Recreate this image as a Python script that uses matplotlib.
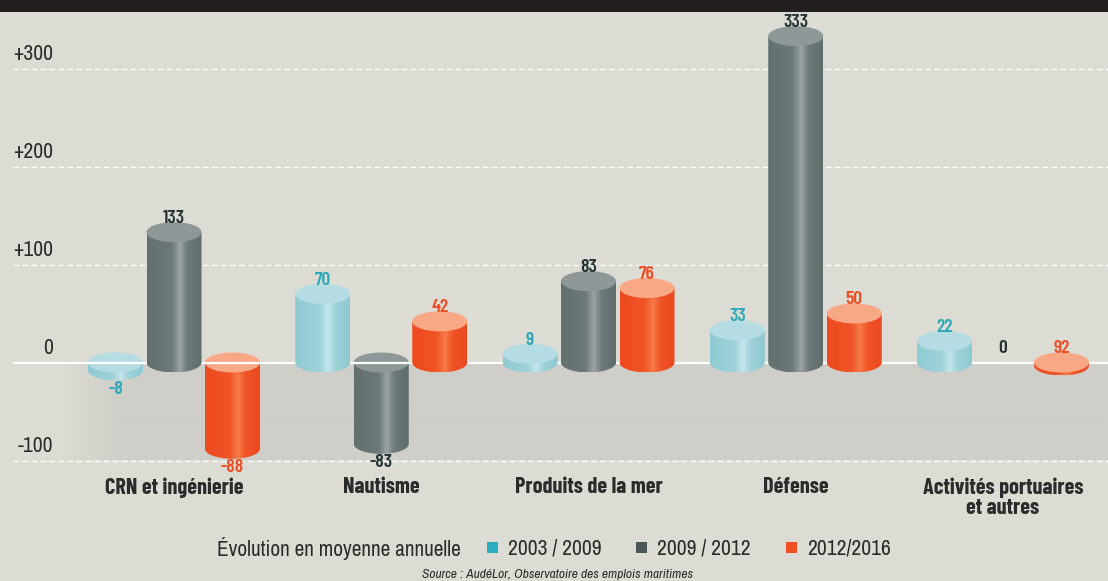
import numpy as np
import matplotlib
matplotlib.use('Agg')
import matplotlib.pyplot as plt
from matplotlib.path import Path
from matplotlib.patches import PathPatch, Ellipse, Rectangle
from matplotlib.colors import LinearSegmentedColormap

# --- donnees ---
categories = ['CRN et ingénierie', 'Nautisme', 'Produits de la mer', 'Défense',
              'Activités portuaires\net autres']
series = ['2003 / 2009', '2009 / 2012', '2012/2016']
v_2003_2009 = [-8, 70, 9, 33, 22]
v_2009_2012 = [133, -83, 83, 333, 0]
v_2012_2016 = [-88, 42, 76, 50, 0]          # hauteur dessinee
lab_2012_2016 = ['-88', '42', '76', '50', '92']   # etiquette affichee
sans_cylindre = {(4, 1)}                     # 0 : pas de cylindre dessine
ticks = [-100, 0, 100, 200, 300]
tick_labels = ['-100', '0', '+100', '+200', '+300']

valeurs = [v_2003_2009, v_2009_2012, v_2012_2016]
etiquettes = [[str(v) for v in v_2003_2009], [str(v) for v in v_2009_2012], lab_2012_2016]

# --- style ---
W, H = 1108, 581
FOND = '#dcdcd4'
POLICE = ['Archivo Narrow', 'DejaVu Sans']
POLICE_G = ['Barlow Condensed', 'DejaVu Sans']
plt.rcParams['font.family'] = POLICE

couleurs_txt = ['#2aa9b9', '#243434', '#f04e23']
couleurs_leg = ['#2aaebf', '#4b5857', '#f04e23']
tops = ['#b5dce3', '#8f9898', '#f9a886']
cotes = [
    ['#8ecad3', '#9ed2da', '#c4e6eb', '#9ed2da', '#8cc8d1'],
    ['#627070', '#6e7979', '#9ca4a4', '#6e7979', '#606d6d'],
    ['#ee4a20', '#f05427', '#f67b49', '#f05427', '#ec481f'],
]
cmaps = [LinearSegmentedColormap.from_list('c%d' % i, list(zip([0, 0.45, 0.6, 0.74, 1], c)))
         for i, c in enumerate(cotes)]

# conversions pixel -> donnees
X0, DX = 174, 207.25
Y0, SY = 362.5, 0.98
def px(x):
    return (x - X0) / DX
def py(y):
    return (Y0 - y) / SY

larg = 55 / DX
decal = 58.5 / DX
eh = 10 / SY   # demi-hauteur des ellipses

fig = plt.figure(figsize=(W / 100, H / 100), dpi=100)
fig.patch.set_facecolor(FOND)
ax = fig.add_axes([0, 0, 1, 1])
ax.set_facecolor(FOND)
ax.axis('off')

# bandeau noir en haut
fig.patches.append(Rectangle((0, 1 - 12 / H), 1, 12 / H, transform=fig.transFigure,
                             facecolor='#231f20', edgecolor='none', zorder=0))

# zone negative plus foncee
rgb = matplotlib.colors.to_rgb('#cfcec8')
ramp = np.clip(np.linspace(0, 1, 400) / 0.06, 0, 1)
img = np.zeros((1, 400, 4))
img[..., :3] = rgb
img[..., 3] = ramp
ax.imshow(img, extent=[px(58), px(1108), -100, 0], aspect='auto', zorder=0.5,
          interpolation='bilinear')

# grille
for t, lab in zip(ticks, tick_labels):
    if t == 0:
        ax.plot([px(13), px(1108)], [0, 0], color='white', lw=1.6, zorder=3,
                solid_capstyle='butt')
    else:
        ax.plot([px(13), px(1108)], [t, t], color='white', lw=1.0, zorder=1,
                dashes=(4, 2.5))
    ax.text(px(53), t + 9, lab, ha='right', va='baseline', fontsize=15.5,
            color='#2b2b2b', zorder=5)


def cylindre(xc, v, cmap, top, z):
    y_top = max(v, 0)
    y_bot = min(v, 0)
    if v == 0:
        y_bot = -3 / SY
    t = np.linspace(np.pi, 2 * np.pi, 80)
    xs = np.concatenate([[xc - larg / 2], xc + larg / 2 * np.cos(t), [xc + larg / 2]])
    ys = np.concatenate([[y_top], y_bot + eh * np.sin(t), [y_top]])
    patch = PathPatch(Path(np.column_stack([xs, ys])), facecolor='none', edgecolor='none')
    ax.add_patch(patch)
    grad = np.linspace(0, 1, 256).reshape(1, -1)
    im = ax.imshow(grad, cmap=cmap, extent=[xc - larg / 2, xc + larg / 2, y_bot - eh, y_top],
                   aspect='auto', zorder=z, interpolation='bilinear')
    im.set_clip_path(patch)
    ax.add_patch(Ellipse((xc, y_top), larg, 2 * eh, facecolor=top, edgecolor='none',
                         zorder=z + 0.1))


for i in range(len(categories)):
    for s in range(3):
        v = valeurs[s][i]
        xc = i + (s - 1) * decal
        if (i, s) not in sans_cylindre:
            z = 2 if v < 0 else 4
            cylindre(xc, v, cmaps[s], tops[s], z)
        if v >= 0:
            ax.text(xc, v + eh - 1, etiquettes[s][i], ha='center', va='baseline',
                    fontsize=14, fontweight='semibold', color=couleurs_txt[s], zorder=6,
                    family=POLICE_G)
        else:
            ax.text(xc, v - eh - 0.5, etiquettes[s][i], ha='center', va='top',
                    fontsize=14, fontweight='semibold', color=couleurs_txt[s], zorder=6,
                    family=POLICE_G)
    ax.text(i, py(477), categories[i], ha='center', va='top', fontsize=16,
            fontweight='bold', color='#2b2b2b', linespacing=1.0, zorder=6,
            family=POLICE_G)

ax.set_xlim(px(0), px(W))
ax.set_ylim(py(H), py(0))

# legende
def fx(x):
    return x / W
def fy(y):
    return 1 - y / H

fig.text(fx(217), fy(548), 'Évolution en moyenne annuelle', ha='left', va='center',
         fontsize=15.3, color='#2b2b2b')
carres = [487, 636, 786]
for xs, c, lab in zip(carres, couleurs_leg, series):
    fig.patches.append(Rectangle((fx(xs), fy(553)), 11 / W, 11 / H, transform=fig.transFigure,
                                 facecolor=c, edgecolor='none'))
    fig.text(fx(xs + 21), fy(548), lab, ha='left', va='center', fontsize=15.5, color='#2b2b2b')

fig.text(fx(557), fy(575), 'Source : AudéLor, Observatoire des emplois maritimes',
         ha='center', va='center', fontsize=9.7, style='italic', color='#2b2b2b')

fig.savefig('out.png', dpi=100, facecolor=FOND)
